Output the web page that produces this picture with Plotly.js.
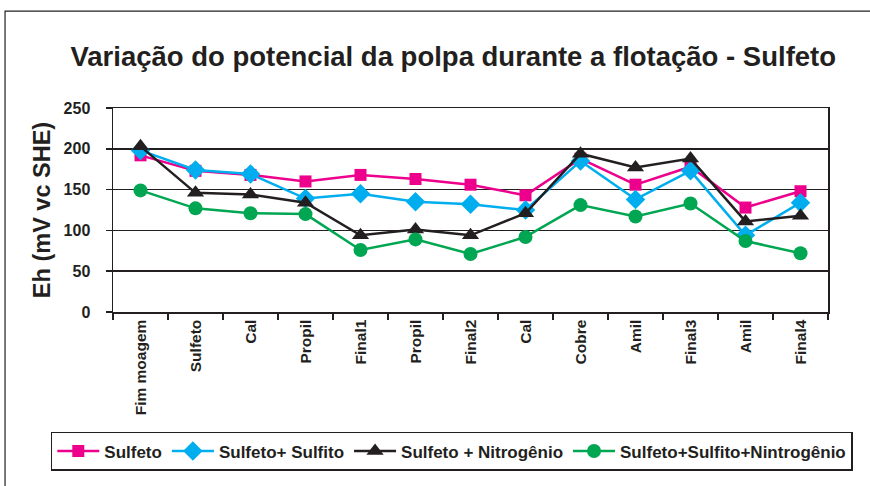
<!DOCTYPE html>
<html>
<head>
<meta charset="utf-8">
<script src="https://cdn.plot.ly/plotly-3.0.1.min.js"></script>
<style>html,body{margin:0;padding:0;background:#fff;}#chart{width:870px;height:486px;}</style>
</head>
<body>
<div id="chart"></div>
<script>
const categories = ["Fim moagem","Sulfeto","Cal","Propil","Final1","Propil","Final2","Cal","Cobre","Amil","Final3","Amil","Final4"];
const sulfeto = [192,173,168,160,168,163,156,143,188,156,178,128,148];
const sulfetoSulfito = [198,174,169,139,145,135,132,125,185,138,173,94,134];
const sulfetoNitrogenio = [203,146,144,134,94,101,94,121,194,177,188,111,118];
const sulfetoSulfitoNitrogenio = [149,127,121,120,76,89,71,92,131,117,133,87,72];
const seriesNames = ["Sulfeto","Sulfeto+ Sulfito","Sulfeto + Nitrogênio","Sulfeto+Sulfito+Nintrogênio"];

const xs = categories.map((_, i) => i);
const FONT = "'Liberation Sans', Arial, sans-serif";

const specs = [
  {y: sulfeto, color: "#EC008C", symbol: "square", size: 12},
  {y: sulfetoSulfito, color: "#00AEEF", symbol: "diamond", size: 15},
  {y: sulfetoNitrogenio, color: "#231F20", symbol: "triangle-up", size: 15},
  {y: sulfetoSulfitoNitrogenio, color: "#00A651", symbol: "circle", size: 14}
];

const traces = specs.map((s, k) => ({
  type: "scatter", mode: "lines+markers",
  x: xs, y: s.y, name: "<b>" + seriesNames[k] + "</b>",
  line: {color: s.color, width: 2.5},
  marker: {color: s.color, symbol: s.symbol, size: s.size}
}));

const layout = {
  width: 870, height: 486,
  margin: {l: 113, r: 42, t: 108, b: 174},
  paper_bgcolor: "#fff", plot_bgcolor: "#fff",
  font: {family: FONT, color: "#231F20"},
  title: {text: "<b>Variação do potencial da polpa durante a flotação - Sulfeto</b>",
          font: {size: 27.5, family: FONT, color: "#231F20"},
          x: 0.521, xanchor: "center", y: 0.885, yanchor: "middle"},
  xaxis: {
    range: [-0.5, 12.5], tickmode: "array", tickvals: xs,
    ticktext: categories.map(c => "<b>" + c + "</b>"),
    tickangle: -90, ticks: "", ticklen: 0,
    tickfont: {size: 15.5, family: FONT, color: "#231F20"},
    showline: true, linecolor: "#231F20", linewidth: 1.5, mirror: true,
    showgrid: false, zeroline: false,
    minor: {tick0: -0.5, dtick: 1, ticks: "outside", ticklen: 6, tickcolor: "#231F20", tickwidth: 1.5, showgrid: false}
  },
  yaxis: {
    range: [0, 250], dtick: 50, ticks: "outside", ticklen: 6, tickcolor: "#231F20", tickwidth: 1.5,
    tickfont: {size: 16, family: FONT, color: "#231F20"},
    tickprefix: "<b>", ticksuffix: "</b>", ticklabelstandoff: 12,
    showline: true, linecolor: "#231F20", linewidth: 1.5, mirror: true,
    showgrid: true, gridcolor: "#231F20", gridwidth: 1.5, zeroline: false,
    title: {text: "<b>Eh (mV vc SHE)</b>", font: {size: 23.5, family: FONT, color: "#231F20"}, standoff: 6}
  },
  showlegend: true,
  legend: {
    orientation: "h", x: -0.087, xanchor: "left", y: -0.588, yanchor: "top",
    bordercolor: "#231F20", borderwidth: 1.5, bgcolor: "#fff",
    font: {size: 17, family: FONT, color: "#231F20"},
    itemwidth: 42, tracegroupgap: 0
  },
  shapes: [
    {type: "rect", xref: "paper", yref: "paper", x0: -0.151, x1: 1.2, y0: 1.475, y1: -1.2,
     line: {color: "#231F20", width: 1.2}, layer: "below"}
  ]
};

Plotly.newPlot("chart", traces, layout, {displayModeBar: false, staticPlot: true});
</script>
</body>
</html>
